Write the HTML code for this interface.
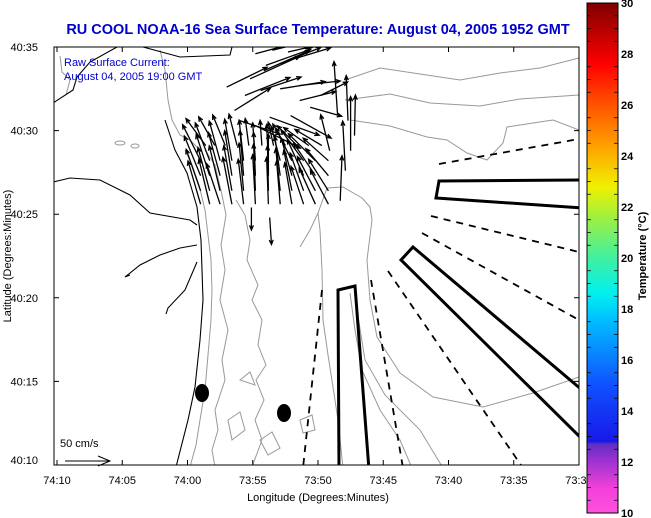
<!DOCTYPE html>
<html><head><meta charset="utf-8">
<style>
html,body{margin:0;padding:0;background:#fff;}
svg{display:block;font-family:"Liberation Sans",sans-serif;}
</style></head>
<body>
<svg id="chart" width="651" height="518" viewBox="0 0 651 518" xmlns="http://www.w3.org/2000/svg">
<defs>
<linearGradient id="cbar" x1="0" y1="1" x2="0" y2="0">
<stop offset="0" stop-color="#ff50e0"/>
<stop offset="0.05" stop-color="#f040d8"/>
<stop offset="0.11" stop-color="#9030d0"/>
<stop offset="0.135" stop-color="#6030c0"/>
<stop offset="0.14" stop-color="#1818e8"/>
<stop offset="0.25" stop-color="#1050ff"/>
<stop offset="0.38" stop-color="#00c0ff"/>
<stop offset="0.43" stop-color="#00f0f0"/>
<stop offset="0.5" stop-color="#40f0a0"/>
<stop offset="0.58" stop-color="#a0f040"/>
<stop offset="0.64" stop-color="#f0f000"/>
<stop offset="0.72" stop-color="#ffa000"/>
<stop offset="0.82" stop-color="#ff4000"/>
<stop offset="0.88" stop-color="#ff0000"/>
<stop offset="1" stop-color="#800000"/>
</linearGradient>
<clipPath id="plotclip"><rect x="54" y="47" width="525" height="418"/></clipPath>
</defs>
<text x="318" y="34" text-anchor="middle" font-size="14.5" font-weight="bold" fill="#0000cc">RU COOL  NOAA-16  Sea Surface Temperature:  August 04, 2005 1952 GMT</text>
<g id="plot" clip-path="url(#plotclip)">
<g fill="none" stroke="#999" stroke-width="1">
<path d="M185,150 L192,165 L199,185 L205,210 L208,235 L211,260 L212,290 L211,320 L208,355 L205,390 L200,420 L196,445 L190,467"/>
<path d="M205,150 L215,165 L222,195 L226,215 L221,245 L225,270 L220,300 L228,330 L222,360 L225,380 L215,410 L218,430 L212,450 L215,467"/>
<path d="M236,200 L245,215 L250,240 L247,260 L258,285 L252,300 L262,320 L258,345 L266,365 L256,380 L264,400 L255,420 L262,440 L252,467"/>
<path d="M300,247 L310,230 L318,213 L327,188 L343,187 L362,198 L370,207 L372,220 L367,260 L370,300 L377,337 L400,373 L433,397 L483,407 L533,393 L579,377"/>
<path d="M318,213 L320,230 L322,270 L323,320 L328,355 L333,387 L338,420 L343,468"/>
<path d="M350,293 L355,330 L362,370 L380,410 L400,440 L412,468"/>
<path d="M357,310 L365,360 L385,395 L420,430 L443,468"/>
<path d="M345,80 L380,68 L420,74 L460,80 L500,73 L540,68 L579,58"/>
<path d="M345,100 L390,94 L430,103 L480,106 L520,99 L579,95"/>
<path d="M350,120 L390,126 L427,137 L447,140 L467,153 L487,160 L503,143 L507,127 L533,123 L553,120 L579,130"/>
<path d="M160,50 L165,70 L168,100 L172,120 L180,135 L190,140 L200,150"/>
<path d="M60,56 L62,72 L70,80 L66,95"/>
<path d="M228,420 L240,412 L245,430 L232,440 Z"/>
<path d="M260,440 L272,432 L280,448 L268,455 Z"/>
<path d="M300,420 L312,415 L315,430 L303,433 Z"/>
<path d="M240,380 L250,372 L255,385 Z"/>
<ellipse cx="120" cy="143" rx="5" ry="2"/>
<ellipse cx="135" cy="146" rx="4" ry="2"/>
</g>
<g fill="none" stroke="#000" stroke-width="1.1">
<path d="M165,120 L170,135 L175,150 L187,173 L197,207 L201,240 L203,300 L200,340 L195,387 L188,420 L176,467"/>
<path d="M53,182 L70,178 L100,180 L130,195 L150,213 L190,220 L197,225"/>
<path d="M197,245 L180,248 L160,255 L140,265 L125,277 L130,275"/>
<path d="M197,262 L185,290 L168,308 L166,314"/>
<path d="M53,103 L73,90 L77,77 L90,62 L117,47"/>
<path d="M143,47 L180,57 L230,55 L232,47"/>
</g>
<g id="radial-lines"></g>
<g id="arrows" stroke="#000" stroke-width="1.3" fill="none"></g>
<ellipse cx="202" cy="393" rx="7" ry="9" fill="#000"/>
<ellipse cx="284" cy="413" rx="7" ry="9" fill="#000"/>
</g>
<rect x="54" y="47" width="525" height="418" fill="none" stroke="#000" stroke-width="1"/>
<g id="axes" font-size="11" fill="#000"></g>
<text x="64" y="66" font-size="11" fill="#0000cc">Raw Surface Current:</text>
<text x="64" y="80" font-size="11" fill="#0000cc">August 04, 2005 19:00 GMT</text>
<text x="60" y="447" font-size="11" fill="#000">50 cm/s</text>
<g stroke="#000" stroke-width="1" fill="none"><path d="M65,461 L110,461 M98,456 L110,461 L98,466"/></g>
<text transform="translate(11,256) rotate(-90)" text-anchor="middle" font-size="11">Latitude (Degrees:Minutes)</text>
<text x="318" y="501" text-anchor="middle" font-size="11">Longitude (Degrees:Minutes)</text>
<rect x="586" y="0" width="65" height="518" fill="#fff"/>
<rect x="587" y="3" width="31" height="510" fill="url(#cbar)" stroke="#000" stroke-width="1"/>
<g id="cbticks"></g>
<text transform="translate(646,256) rotate(-90)" text-anchor="middle" font-size="11" font-weight="bold">Temperature (°C)</text>
</svg>
<script>
// Axis data
const lonTickLabels = ["74:10","74:05","74:00","73:55","73:50","73:45","73:40","73:35","73:30"];
const lonTickMinutes = [0,5,10,15,20,25,30,35,40];
const latTickLabels = ["40:10","40:15","40:20","40:25","40:30","40:35"];
const latTickMinutes = [0,5,10,15,20,25];
const cbarValues = [10,12,14,16,18,20,22,24,26,28,30];
// Current vectors: lon minutes west of 74:10, lat minutes north of 40:10, u/v in cm/s
const arrowLon = [11.0,11.7,12.5,13.4,14.3,15.2,16.2,17.1,18.0,18.9,19.8,20.8,
 11.0,11.7,12.5,13.4,14.3,15.2,16.2,17.1,18.0,18.9,19.8,20.8,
 11.0,11.7,12.5,13.4,14.3,15.2,16.2,17.1,18.0,18.9,19.8,20.8,
 11.0,11.7,12.5,13.4,14.3,15.2,16.2,17.1,18.0,18.9,19.8,20.8,
 11.4,12.1,12.9,13.8,14.7,15.7,16.6,17.5,18.4,19.3,20.3,
 13.6,14.4,15.6,17.1,18.6,14.8,15.9,17.1,18.2,14.0,15.2,16.3,17.9,18.6,20.2,19.4,
 15.2,16.5,17.7,19.0,16.0,13.0,
 21.7,22.1,22.5,22.3,22.8,21.5,20.9,14.9,16.3];
const arrowLat = [15.6,15.6,15.6,15.6,15.6,15.6,15.6,15.6,15.6,15.6,15.6,15.6,
 16.4,16.4,16.4,16.4,16.4,16.4,16.4,16.4,16.4,16.4,16.4,16.4,
 17.3,17.3,17.3,17.3,17.3,17.3,17.3,17.3,17.3,17.3,17.3,17.3,
 18.2,18.2,18.2,18.2,18.2,18.2,18.2,18.2,18.2,18.2,18.2,18.2,
 19.1,19.1,19.1,19.1,19.1,19.1,19.1,19.1,19.1,19.1,19.1,
 21.2,22.1,22.4,22.5,22.7,23.1,23.6,24.0,24.3,20.6,20.3,20.8,20.9,21.8,22.1,21.4,
 24.6,24.8,24.7,24.9,23.9,22.6,
 15.8,17.6,18.8,20.6,19.7,20.9,18.8,15.4,14.8];
const arrowU = [-14,-12,-15,-10,-6,-3,-2,-4,-8,-14,-18,-20,
 -16,-13,-12,-9,-5,-2,-1,-5,-9,-15,-20,-22,
 -18,-15,-13,-8,-4,-2,0,-6,-12,-18,-24,-25,
 -20,-16,-12,-8,-5,-3,-2,-10,-18,-25,-30,-28,
 -22,-18,-14,-9,-4,-2,-6,-14,-22,-28,-30,
 40,50,45,50,45,55,50,45,40,45,50,55,45,40,30,35,
 45,40,35,30,50,45,
 2,-3,0,-2,1,-4,-10,0,2];
const arrowV = [48,50,45,52,50,55,52,48,46,42,40,38,
 46,48,50,50,53,52,50,47,45,42,38,35,
 44,46,48,50,50,48,46,44,42,40,36,30,
 40,42,44,46,45,42,40,38,36,34,30,25,
 30,32,34,35,30,28,26,24,22,20,18,
 25,20,15,8,5,25,22,18,12,-15,-25,-20,-25,10,15,-10,
 12,10,8,6,18,22,
 50,55,60,50,45,60,40,-25,-30];

const NS = "http://www.w3.org/2000/svg";
const X0 = 57, XS = 13.05, Y0 = 465, YS = 16.72, VS = 0.9;
function xOf(m){ return X0 + m*XS; }
function yOf(m){ return Y0 - m*YS; }

// Axes
const axes = document.getElementById('axes');
lonTickMinutes.forEach((m,i)=>{
  const x = xOf(m);
  const t = document.createElementNS(NS,'path');
  t.setAttribute('d',`M${x},465 L${x},460 M${x},47 L${x},52`);
  t.setAttribute('stroke','#000');
  
  
  axes.appendChild(t);
  const l = document.createElementNS(NS,'text');
  l.setAttribute('x',x); l.setAttribute('y',484); l.setAttribute('text-anchor','middle');
  l.textContent = lonTickLabels[i];
  
  
  axes.appendChild(l);
});
latTickMinutes.forEach((m,i)=>{
  const y = yOf(m);
  const t = document.createElementNS(NS,'path');
  t.setAttribute('d',`M54,${y} L59,${y} M579,${y} L574,${y}`);
  t.setAttribute('stroke','#000');
  
  
  axes.appendChild(t);
  const l = document.createElementNS(NS,'text');
  l.setAttribute('x',38); l.setAttribute('y',y+(i===0?-1:4)); l.setAttribute('text-anchor','end');
  l.textContent = latTickLabels[i];
  
  
  axes.appendChild(l);
});

// Arrows
const ag = document.getElementById('arrows');
arrowLon.forEach((lm,i)=>{
  const x1 = xOf(lm), y1 = yOf(arrowLat[i]);
  const dx = arrowU[i]*VS, dy = -arrowV[i]*VS;
  const x2 = x1+dx, y2 = y1+dy;
  const a = Math.atan2(dy,dx), h = 5, s = 0.4;
  const hx1 = x2 - h*Math.cos(a-s), hy1 = y2 - h*Math.sin(a-s);
  const hx2 = x2 - h*Math.cos(a+s), hy2 = y2 - h*Math.sin(a+s);
  const p = document.createElementNS(NS,'path');
  p.setAttribute('d',`M${x1.toFixed(1)},${y1.toFixed(1)} L${x2.toFixed(1)},${y2.toFixed(1)} M${hx1.toFixed(1)},${hy1.toFixed(1)} L${x2.toFixed(1)},${y2.toFixed(1)} L${hx2.toFixed(1)},${hy2.toFixed(1)}`);
  
  
  ag.appendChild(p);
});

// Radial dashed lines and thick boxes
const rg = document.getElementById('radial-lines');
const dashed = ["M439,164 L579,139","M431,216 L579,252","M422,233 L579,320","M388,271 L523,468","M371,280 L403,468","M322,290 L303,468"];
dashed.forEach(d=>{
  const p = document.createElementNS(NS,'path');
  p.setAttribute('d',d); p.setAttribute('stroke','#000'); p.setAttribute('stroke-width','1.8');
  p.setAttribute('stroke-dasharray','7,6'); p.setAttribute('fill','none');
  
  
  rg.appendChild(p);
});
const boxes = ["M439,181 L582,180 L582,208 L436,198 Z","M413,247 L582,390 L582,439 L401,260 Z","M338,290 L355,286 L369,470 L339,470 Z"];
boxes.forEach(d=>{
  const p = document.createElementNS(NS,'path');
  p.setAttribute('d',d); p.setAttribute('stroke','#000'); p.setAttribute('stroke-width','3');
  p.setAttribute('fill','none'); p.setAttribute('stroke-linejoin','miter');
  
  
  rg.appendChild(p);
});

// Colorbar ticks
const cg = document.getElementById('cbticks');
function cbY(v){ return 513 - (v-10)*(510/20); }
for (let k=0;k<cbarValues.length;k++){
  const v = cbarValues[k], y = cbY(v);
  const l = document.createElementNS(NS,'text');
  l.setAttribute('x',621); l.setAttribute('y',y+4);
  l.setAttribute('font-size','11'); l.setAttribute('font-weight','bold');
  l.textContent = v;
  
  
  cg.appendChild(l);
  if (k < cbarValues.length-1){
    for (let j=1;j<4;j++){
      const yy = cbY(v + j*0.5);
      const t = document.createElementNS(NS,'path');
      t.setAttribute('d',`M587,${yy} L591,${yy} M618,${yy} L614,${yy}`);
      t.setAttribute('stroke','#000'); t.setAttribute('stroke-width','0.8');
      
      
      cg.appendChild(t);
    }
  }
}
</script>
</body></html>
